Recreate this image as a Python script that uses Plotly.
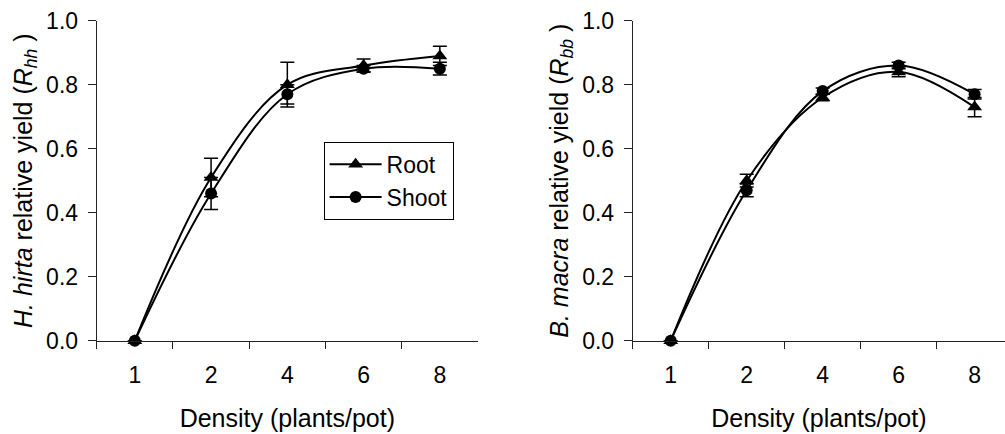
import plotly.graph_objects as go
from plotly.subplots import make_subplots

# Planting density categories (plants per pot)
density = ["1", "2", "4", "6", "8"]

# H. hirta relative yield
hh_root = [0.0, 0.51, 0.80, 0.86, 0.89]
hh_root_err = [0.0, 0.06, 0.07, 0.02, 0.03]
hh_shoot = [0.0, 0.46, 0.77, 0.85, 0.85]
hh_shoot_err = [0.0, 0.05, 0.03, 0.01, 0.02]

# B. macra relative yield
bm_root = [0.0, 0.50, 0.76, 0.84, 0.73]
bm_root_err = [0.0, 0.02, 0.01, 0.015, 0.03]
bm_shoot = [0.0, 0.47, 0.78, 0.86, 0.77]
bm_shoot_err = [0.0, 0.02, 0.01, 0.01, 0.015]

y_ticks = [0.0, 0.2, 0.4, 0.6, 0.8, 1.0]
y_tick_text = ["0.0", "0.2", "0.4", "0.6", "0.8", "1.0"]

FONT = "Liberation Sans, Arial, sans-serif"

fig = make_subplots(rows=1, cols=2)


def add_series(col, y, err, name, symbol, msize, show):
    fig.add_trace(
        go.Scatter(
            x=density,
            y=y,
            name=name,
            legendgroup=name,
            showlegend=show,
            mode="lines+markers",
            line=dict(color="black", width=2, shape="spline", smoothing=1.0),
            marker=dict(symbol=symbol, size=msize, color="black"),
            error_y=dict(type="data", array=err, visible=True,
                         color="black", thickness=1.5, width=7),
            cliponaxis=False,
        ),
        row=1, col=col,
    )


add_series(1, hh_shoot, hh_shoot_err, "Shoot", "circle", 12, True)
add_series(1, hh_root, hh_root_err, "Root", "triangle-up", 13, True)
add_series(2, bm_root, bm_root_err, "Root", "triangle-up", 13, False)
add_series(2, bm_shoot, bm_shoot_err, "Shoot", "circle", 12, False)

common_x = dict(
    type="category",
    showline=True, linecolor="#222", linewidth=1,
    ticks="outside", tickson="boundaries", ticklen=7, tickcolor="#222",
    ticklabelstandoff=14,
    showgrid=False, zeroline=False, automargin=False,
    tickfont=dict(family=FONT, size=23, color="black"),
    title=dict(text="Density (plants/pot)",
               font=dict(family=FONT, size=25, color="black"), standoff=22),
)
common_y = dict(
    range=[0, 1.0],
    tickvals=y_ticks, ticktext=y_tick_text,
    showline=True, linecolor="#222", linewidth=1,
    ticks="outside", ticklen=8, tickcolor="#222",
    ticklabelstandoff=5,
    showgrid=False, zeroline=False, automargin=False,
    tickfont=dict(family=FONT, size=23, color="black"),
)

fig.update_xaxes(common_x)
fig.update_yaxes(common_y)

fig.update_xaxes(domain=[0.0962, 0.4756], range=[-0.5, 4.5], row=1, col=1)
fig.update_xaxes(domain=[0.6296, 1.0], range=[-0.5, 4.4], row=1, col=2)
fig.update_yaxes(domain=[0.215, 0.9523], row=1, col=1,
                 title=dict(text="<i>H. hirta</i> relative yield (<i>R<sub>hh</sub></i> )",
                            font=dict(family=FONT, size=25, color="black"), standoff=6))
fig.update_yaxes(domain=[0.215, 0.9523], row=1, col=2,
                 title=dict(text="<i>B. macra</i> relative yield (<i>R<sub>bb</sub></i> )",
                            font=dict(family=FONT, size=25, color="black"), standoff=6))

fig.update_layout(
    width=1005, height=434,
    margin=dict(l=0, r=0, t=0, b=0),
    paper_bgcolor="white", plot_bgcolor="white",
    font=dict(family=FONT, color="black"),
    showlegend=True,
    legend=dict(
        x=0.322, y=0.6735, xanchor="left", yanchor="top",
        bgcolor="white", bordercolor="black", borderwidth=1,
        font=dict(family=FONT, size=23, color="black"),
        itemwidth=52, tracegroupgap=11, traceorder="reversed",
    ),
)

fig.write_html("out.html")
